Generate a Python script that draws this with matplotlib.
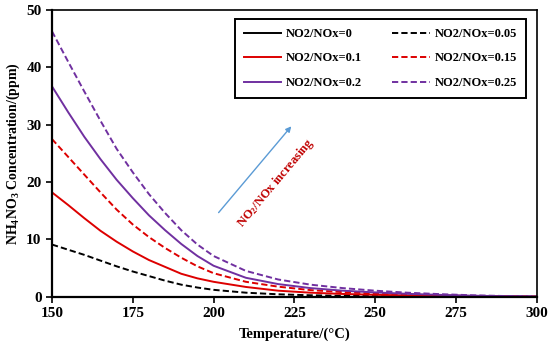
import numpy as np
import matplotlib as mpl
mpl.use('agg')
import matplotlib.pyplot as plt

plt.rcParams['font.family'] = ['Liberation Serif', 'DejaVu Serif']
plt.rcParams['font.weight'] = 'bold'
plt.rcParams['mathtext.fontset'] = 'custom'
plt.rcParams['mathtext.rm'] = 'Liberation Serif:bold'
plt.rcParams['mathtext.bf'] = 'Liberation Serif:bold'
plt.rcParams['mathtext.it'] = 'Liberation Serif:bold:italic'
plt.rcParams['mathtext.default'] = 'rm'

# temperature (C)
temp = [150, 155, 160, 165, 170, 175, 180, 185, 190, 195, 200,
        210, 220, 230, 240, 250, 260, 270, 280, 290, 300]

# NH4NO3 concentration (ppm) for each NO2/NOx ratio
r000 = [0.0] * len(temp)
r005 = [9.1, 8.2, 7.3, 6.3, 5.3, 4.4, 3.6, 2.8, 2.1, 1.6, 1.2,
        0.7, 0.42, 0.25, 0.15, 0.1, 0.06, 0.04, 0.02, 0.01, 0.0]
r010 = [18.2, 16.0, 13.7, 11.5, 9.6, 7.9, 6.4, 5.2, 4.0, 3.2, 2.6,
        1.7, 1.05, 0.7, 0.48, 0.33, 0.22, 0.13, 0.07, 0.03, 0.01]
r015 = [27.5, 24.4, 21.3, 18.2, 15.2, 12.6, 10.4, 8.5, 6.8, 5.3, 4.1,
        2.6, 1.75, 1.15, 0.8, 0.55, 0.37, 0.22, 0.12, 0.05, 0.01]
r020 = [36.7, 32.2, 27.9, 24.0, 20.4, 17.2, 14.2, 11.6, 9.2, 7.1, 5.4,
        3.3, 2.2, 1.5, 1.05, 0.75, 0.5, 0.32, 0.18, 0.08, 0.02]
r025 = [46.3, 41.0, 35.8, 30.7, 25.8, 21.7, 17.9, 14.6, 11.6, 9.1, 7.1,
        4.5, 3.0, 2.1, 1.5, 1.05, 0.7, 0.45, 0.25, 0.12, 0.04]

labels = ['NO2/NOx=0', 'NO2/NOx=0.05', 'NO2/NOx=0.1',
          'NO2/NOx=0.15', 'NO2/NOx=0.2', 'NO2/NOx=0.25']

red = '#DD0000'
purple = '#7030A0'
dash = (0, (3.2, 1.6))

fig = plt.figure(figsize=(5.5, 3.48), dpi=100)
ax = fig.add_axes([0.0945, 0.1474, 0.8815, 0.8236])

h0, = ax.plot(temp, r000, color='black', lw=1.4, label=labels[0], clip_on=False, zorder=3)
h1, = ax.plot(temp, r005, color='black', lw=1.4, ls=dash, label=labels[1])
h2, = ax.plot(temp, r010, color=red, lw=1.4, label=labels[2])
h3, = ax.plot(temp, r015, color=red, lw=1.4, ls=dash, label=labels[3])
h4, = ax.plot(temp, r020, color=purple, lw=1.4, label=labels[4])
h5, = ax.plot(temp, r025, color=purple, lw=1.4, ls=dash, label=labels[5])

ax.set_xlim(150, 300)
ax.set_ylim(0, 50)
ax.set_xticks([150, 175, 200, 225, 250, 275, 300])
ax.set_yticks([0, 10, 20, 30, 40, 50])
ax.tick_params(direction='out', length=4, width=1.2, labelsize=11)
for s in ax.spines.values():
    s.set_linewidth(1.2)
ax.spines['bottom'].set_linewidth(1.6)
ax.spines['left'].set_linewidth(1.6)

ax.set_xlabel('Temperature/(°C)', fontsize=10.5, fontweight='bold', labelpad=5)
ax.set_ylabel('NH$_4$NO$_3$ Concentration/(ppm)', fontsize=10, fontweight='bold', labelpad=3)

# arrow and note
ax.annotate('', xy=(224.6, 30.1), xytext=(201.0, 14.3),
            arrowprops=dict(arrowstyle='-|>', color='#5B9BD5', lw=1.0,
                            mutation_scale=8))
ax.text(219.3, 19.8, 'NO$_2$/NOx increasing', color='#C00000', fontsize=9,
        fontweight='bold', rotation=50, ha='center', va='center',
        rotation_mode='anchor')

# row-wise order like the reference
hs = [h0, h2, h4, h1, h3, h5]
leg = ax.legend(hs, [h.get_label() for h in hs], ncol=2, loc='upper right',
                bbox_to_anchor=(0.956, 0.945),
                bbox_transform=fig.transFigure, borderaxespad=0,
                fancybox=False, edgecolor='black', framealpha=1,
                fontsize=9, handlelength=3.0, labelspacing=1.0,
                columnspacing=2.4, handletextpad=0.4, borderpad=0.7)
leg.get_frame().set_linewidth(1.4)

fig.savefig('out.png', dpi=100)
